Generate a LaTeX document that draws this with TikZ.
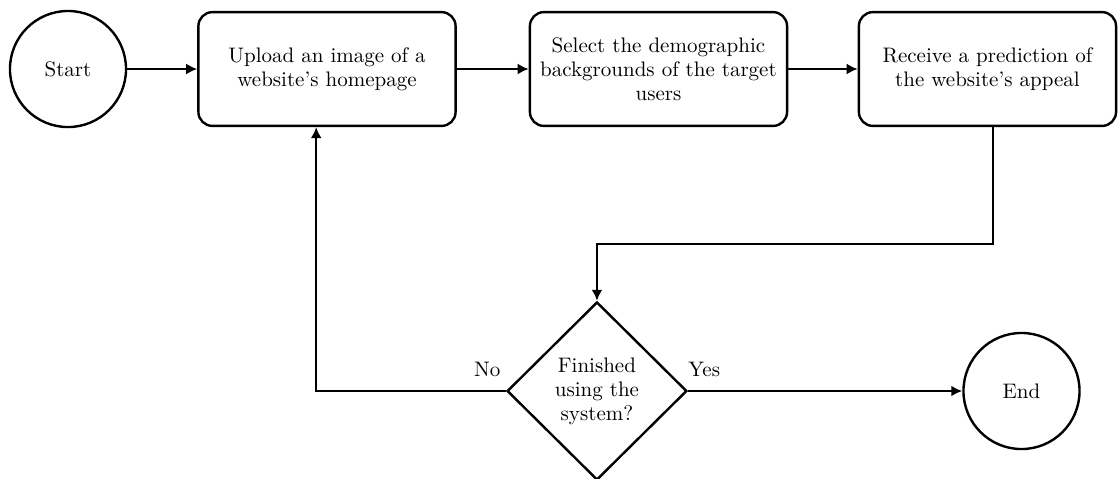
\documentclass[tikz,border=0pt]{standalone}
\usepackage{tikz}
\usetikzlibrary{shapes.geometric, arrows.meta, positioning}

\begin{document}
\begin{tikzpicture}[
  term/.style={
    circle, draw, line width=1.2pt,
    minimum size=2.04cm, inner sep=0pt,
    font=\fontsize{10.5}{12}\selectfont
  },
  box/.style={
    rectangle, rounded corners=7pt, draw, line width=1.2pt,
    minimum width=4.52cm, minimum height=2cm, inner xsep=2pt,
    text width=4.3cm, align=center,
    font=\fontsize{10.5}{12}\selectfont
  },
  decide/.style={
    diamond, aspect=1, draw, line width=1.2pt,
    minimum width=3.16cm, minimum height=3.13cm, inner sep=0pt,
    align=center, font=\fontsize{10.5}{12}\selectfont
  },
  lbl/.style={inner sep=0pt, font=\fontsize{10.5}{12}\selectfont},
  link/.style={line width=1.2pt, -{Latex[length=5.5pt,width=5.5pt]}}
]
\useasboundingbox (0,0) rectangle (19.649,-8.418);

\node[term] (start) at (1.195,-1.213)  {Start};
\node[box]  (box1)  at (5.747,-1.213)  {Upload an image of a\\ website's homepage};
\node[box]  (box2)  at (11.573,-1.213) {Select the demographic\\ backgrounds of the target\\ users};
\node[box]  (box3)  at (17.355,-1.213) {Receive a prediction of\\ the website's appeal};
\node[decide] (dec) at (10.492,-6.872) {Finished\\ using the\\ system?};
\node[term] (stop)  at (17.953,-6.872) {End};

\node[lbl, above left=7pt and 2.5pt of dec.west] (no) {No};
\node[lbl, above right=7pt and 0pt of dec.east] (yes) {Yes};

\draw[link] (start) -- (box1);
\draw[link] (box1) -- (box2);
\draw[link] (box2) -- (box3);
\draw[link] ([xshift=0.1cm]box3.south) -- ++(0,-2.05) -| (dec.north);
\draw[link] (dec.west) -| ([xshift=-0.19cm]box1.south);
\draw[link] (dec) -- (stop);
\end{tikzpicture}
\end{document}
